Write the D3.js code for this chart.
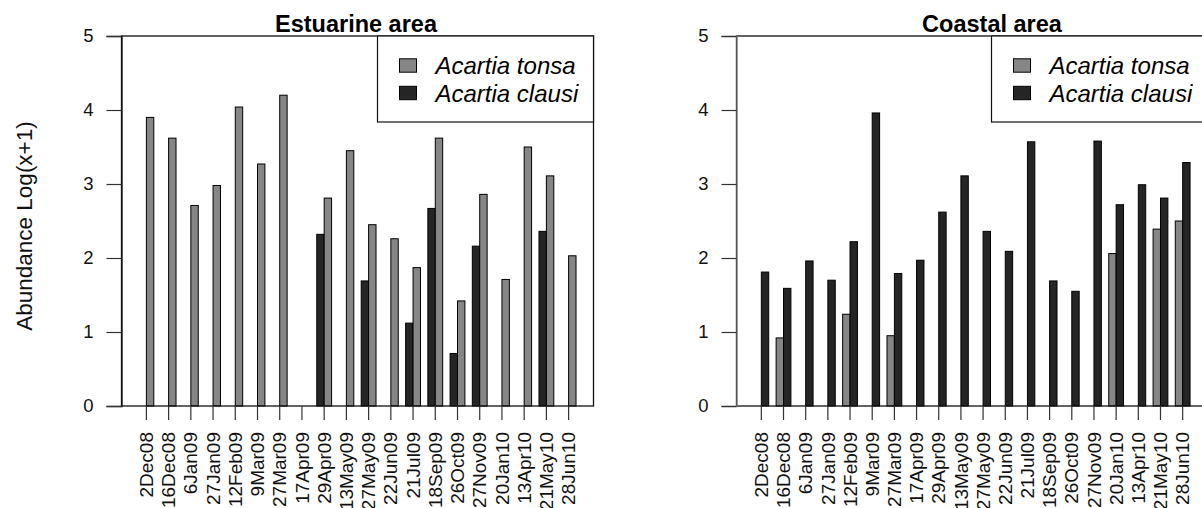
<!DOCTYPE html>
<html>
<head>
<meta charset="utf-8">
<script src="https://cdn.jsdelivr.net/npm/d3@7"></script>
<style>
  html, body { margin: 0; padding: 0; background: #fff; }
  svg { display: block; font-family: "Liberation Sans", Arial, sans-serif; }
</style>
</head>
<body>
<svg id="chart" width="1202" height="508"></svg>
<script>
// ---- data ----
const dates = ["2Dec08","16Dec08","6Jan09","27Jan09","12Feb09","9Mar09","27Mar09","17Apr09","29Apr09","13May09",
               "27May09","22Jun09","21Jul09","18Sep09","26Oct09","27Nov09","20Jan10","13Apr10","21May10","28Jun10"];
const yTicks = [0, 1, 2, 3, 4, 5];
const seriesNames = ["Acartia tonsa", "Acartia clausi"];

// Estuarine area
const estTonsa  = [3.90, 3.62, 2.71, 2.98, 4.04, 3.27, 4.20, 0, 2.81, 3.45, 2.45, 2.26, 1.87, 3.62, 1.42, 2.86, 1.71, 3.50, 3.11, 2.03];
const estClausi = [0, 0, 0, 0, 0, 0, 0, 0, 2.32, 0, 1.69, 0, 1.12, 2.67, 0.71, 2.16, 0, 0, 2.36, 0];

// Coastal area
const coaTonsa  = [0, 0.92, 0, 0, 1.24, 0, 0.95, 0, 0, 0, 0, 0, 0, 0, 0, 0, 2.06, 0, 2.39, 2.50];
const coaClausi = [1.81, 1.59, 1.96, 1.70, 2.22, 3.96, 1.79, 1.97, 2.62, 3.11, 2.36, 2.09, 3.57, 1.69, 1.55, 3.58, 2.72, 2.99, 2.81, 3.29];

// ---- styles ----
const GRAY = "#868686", DARK = "#252525";
const svg = d3.select("#chart");
svg.append("rect").attr("width", 1202).attr("height", 508).attr("fill", "#fff");

const plotTop = 36, plotBottom = 406;
const y = d3.scaleLinear().domain([0, 5]).range([plotBottom, plotTop]);

function panel(opts) {
  const { left, right, title, titleX, first, second, firstColor, secondColor, yAxisColor } = opts;
  const g = svg.append("g");
  // R barplot units: usr from -1.36 to 62.36 ; groups occupy [0,60]
  const xu = d3.scaleLinear().domain([-1.36, 62.36]).range([left, right]);
  const band = d3.scaleBand().domain(dates).range([xu(0), xu(60)]).padding(0);
  const bw = band.bandwidth() / 3;

  // bars
  const bars = [];
  dates.forEach((d, i) => {
    bars.push({ d, v: first[i], x: band(d) + bw, c: firstColor });
    bars.push({ d, v: second[i], x: band(d) + 2 * bw, c: secondColor });
  });
  g.selectAll("rect.bar").data(bars.filter(b => b.v > 0)).join("rect")
    .attr("class", "bar")
    .attr("x", b => b.x).attr("width", bw)
    .attr("y", b => y(b.v)).attr("height", b => y(0) - y(b.v))
    .attr("fill", b => b.c).attr("stroke", "#000").attr("stroke-width", 1);

  // box
  g.append("rect").attr("x", left).attr("y", plotTop).attr("width", right - left).attr("height", plotBottom - plotTop)
    .attr("fill", "none").attr("stroke", "#111").attr("stroke-width", 1.3);

  // y axis
  const ya = g.append("g").attr("transform", `translate(${left},0)`)
    .call(d3.axisLeft(y).tickValues(yTicks).tickSize(15).tickPadding(13).tickFormat(d3.format("d")));
  ya.select(".domain").attr("stroke", yAxisColor).attr("stroke-width", 1.3);
  ya.selectAll(".tick line").attr("stroke", "#333").attr("stroke-width", 1.2);
  ya.selectAll(".tick text").attr("font-size", 18.5).attr("fill", "#111")
    .attr("font-family", "Liberation Sans, Arial, sans-serif");

  // x axis (ticks at centre of the two bars)
  const xa = g.append("g").attr("transform", `translate(${bw / 2},${plotBottom})`)
    .call(d3.axisBottom(band).tickSize(14).tickSizeOuter(0));
  xa.select(".domain").remove();
  xa.selectAll(".tick line").attr("stroke", "#333").attr("stroke-width", 1.2);
  xa.selectAll(".tick text")
    .attr("font-size", 19).attr("fill", "#111")
    .attr("font-family", "Liberation Sans, Arial, sans-serif")
    .attr("transform", "rotate(-90)")
    .attr("text-anchor", "end")
    .attr("x", -26).attr("y", 0).attr("dy", "0.35em");

  // title
  g.append("text").attr("x", titleX).attr("y", 31.5).attr("text-anchor", "middle")
    .attr("font-size", 23.5).attr("font-weight", "bold").attr("fill", "#000").text(title);

  // legend
  const lw = 216, lh = 86;
  const lx = right - lw;
  g.append("rect").attr("x", lx).attr("y", plotTop).attr("width", lw).attr("height", lh)
    .attr("fill", "#fff").attr("stroke", "#111").attr("stroke-width", 1.2);
  const legendItems = [{ name: seriesNames[0], c: GRAY }, { name: seriesNames[1], c: DARK }];
  legendItems.forEach((it, i) => {
    const cy = 65.5 + i * 27.5;
    g.append("rect").attr("x", lx + 22).attr("y", cy - 6.7).attr("width", 17).attr("height", 13.4)
      .attr("fill", it.c).attr("stroke", "#000").attr("stroke-width", 1);
    g.append("text").attr("x", lx + 58).attr("y", cy + 8.5)
      .attr("font-size", 24).attr("font-style", "italic").attr("fill", "#000").text(it.name);
  });
}

panel({ left: 121.5, right: 593.5, title: "Estuarine area", titleX: 356,
        first: estClausi, second: estTonsa, firstColor: DARK, secondColor: GRAY, yAxisColor: "#111" });
panel({ left: 736.5, right: 1207.5, title: "Coastal area", titleX: 992,
        first: coaTonsa, second: coaClausi, firstColor: GRAY, secondColor: DARK, yAxisColor: "#7a7a7a" });

// y axis title
svg.append("text").attr("transform", "translate(32,226) rotate(-90)")
  .attr("text-anchor", "middle")
  .attr("font-size", 22.5).attr("fill", "#111").text("Abundance Log(x+1)");
</script>
</body>
</html>
